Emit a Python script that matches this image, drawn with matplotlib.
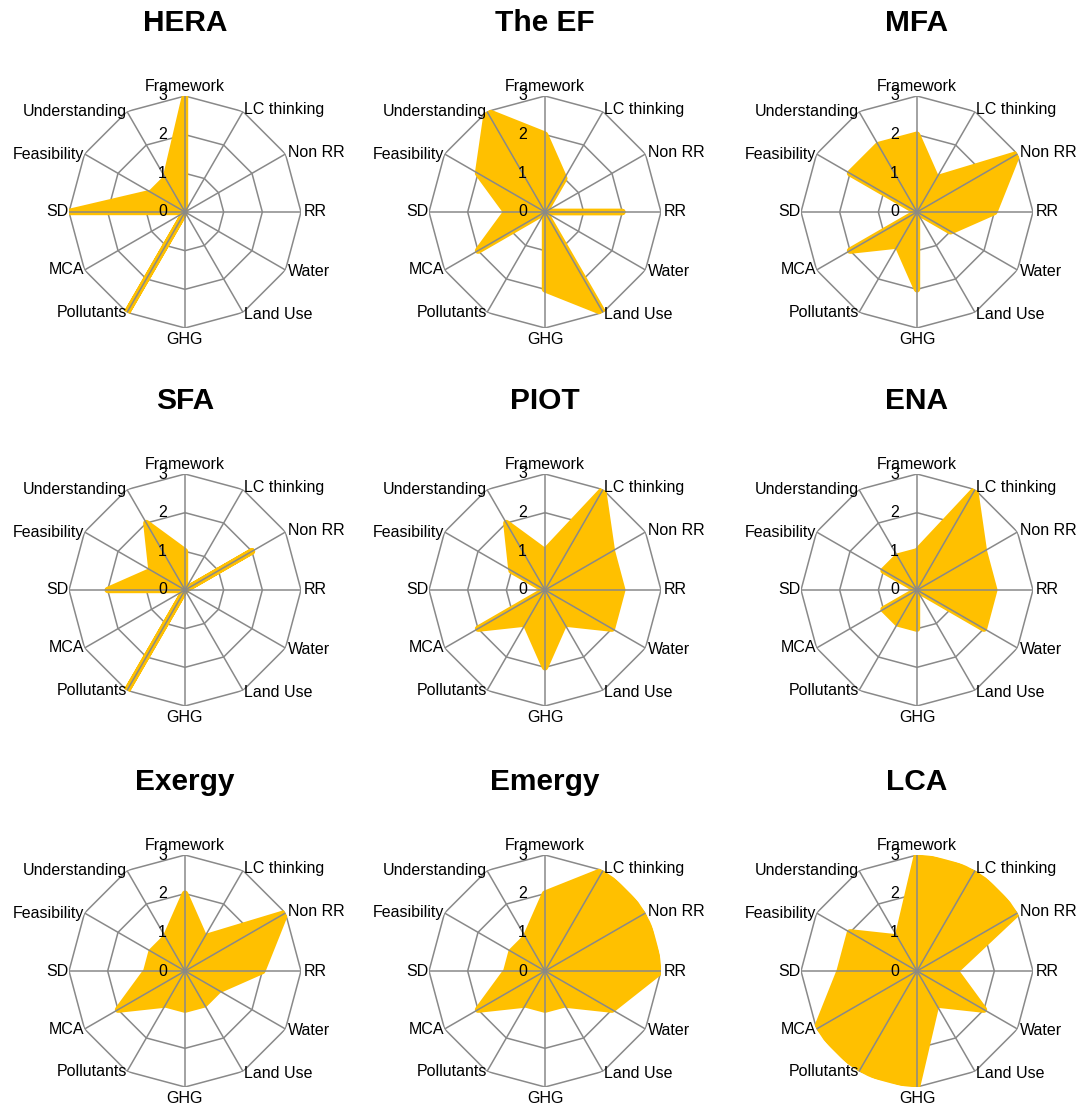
import numpy as np
import matplotlib
matplotlib.use("Agg")
import matplotlib.pyplot as plt
from matplotlib.transforms import offset_copy

plt.rcParams['font.family'] = ['Liberation Sans', 'DejaVu Sans']

categories = ["Framework", "LC thinking", "Non RR", "RR", "Water", "Land Use",
              "GHG", "Pollutants", "MCA", "SD", "Feasibility", "Understanding"]

methods = ["HERA", "The EF", "MFA", "SFA", "PIOT", "ENA", "Exergy", "Emergy", "LCA"]

hera   = [3, 0, 0, 0, 0, 0, 0, 3, 0, 3, 1, 1]
the_ef = [2, 1, 0, 2, 0, 3, 2, 0, 2, 1, 2, 3]
mfa    = [2, 1, 3, 2, 1, 0, 2, 1, 2, 0, 2, 2]
sfa    = [1, 0, 2, 0, 0, 0, 0, 3, 0, 2, 1, 2]
piot   = [1, 3, 2, 2, 2, 1, 2, 1, 2, 0, 1, 2]
ena    = [1, 3, 2, 2, 2, 0, 1, 1, 1, 0, 1, 1]
exergy = [2, 1, 3, 2, 1, 1, 1, 1, 2, 1, 1, 1]
emergy = [2, 3, 3, 3, 2, 1, 1, 1, 2, 1, 1, 1]
lca    = [3, 3, 3, 1, 2, 1, 3, 3, 3, 2, 2, 1]

scores = [hera, the_ef, mfa, sfa, piot, ena, exergy, emergy, lca]
ticks = [0, 1, 2, 3]

FILL = "#FFC000"
GRID = "#898989"

W, H = 1080, 1108
fig = plt.figure(figsize=(W / 100, H / 100), dpi=100)
fig.patch.set_facecolor("white")

col_x = [185, 545, 917]
row_y = [212, 590, 971]
R = 116

n = len(categories)
angles = np.linspace(0, 2 * np.pi, n, endpoint=False)
closed = np.append(angles, angles[0])

for k, (name, vals) in enumerate(zip(methods, scores)):
    cx = col_x[k % 3]
    cy = row_y[k // 3]
    ax = fig.add_axes([(cx - R) / W, (H - cy - R) / H, 2 * R / W, 2 * R / H],
                      projection="polar")
    ax.set_theta_zero_location("N")
    ax.set_theta_direction(-1)
    ax.set_ylim(0, 3)
    ax.grid(False)
    ax.spines["polar"].set_visible(False)
    ax.set_xticks([])
    ax.set_yticks([])
    ax.patch.set_alpha(0)

    # value rings (polygonal), behind the fill
    for t in ticks[1:]:
        ax.plot(closed, [t] * (n + 1), color=GRID, lw=1.1, zorder=1)

    v = np.append(vals, vals[0])
    ax.fill(closed, v, facecolor=FILL, edgecolor=FILL, lw=4.6,
            joinstyle="round", zorder=2)

    # spokes drawn over the fill
    for a in angles:
        ax.plot([a, a], [0, 3], color=GRID, lw=1.1, zorder=3)

    # value tick labels along the vertical axis
    tr = offset_copy(ax.transData, fig=fig, x=-13, y=0, units="points")
    for t in ticks:
        ax.text(0, t, str(t), transform=tr, ha="right", va="center",
                fontsize=11.5, zorder=4)

    # category labels around the outside
    for a, lab in zip(angles, categories):
        deg = np.degrees(a) % 360
        if np.isclose(deg, 0):
            ha, va, r = "center", "bottom", 3.04
        elif np.isclose(deg, 180):
            ha, va, r = "center", "top", 3.1
        elif deg < 180:
            ha, va, r = "left", "center", 3.07
        else:
            ha, va, r = "right", "center", 3.0
        ax.text(a, r, lab, ha=ha, va=va, fontsize=11.5, zorder=4)

    fig.text(cx / W, 1 - (cy - 189) / H, name, ha="center", va="center",
             fontsize=21.5, fontweight="bold")

fig.savefig("out.png", dpi=100, facecolor="white")
